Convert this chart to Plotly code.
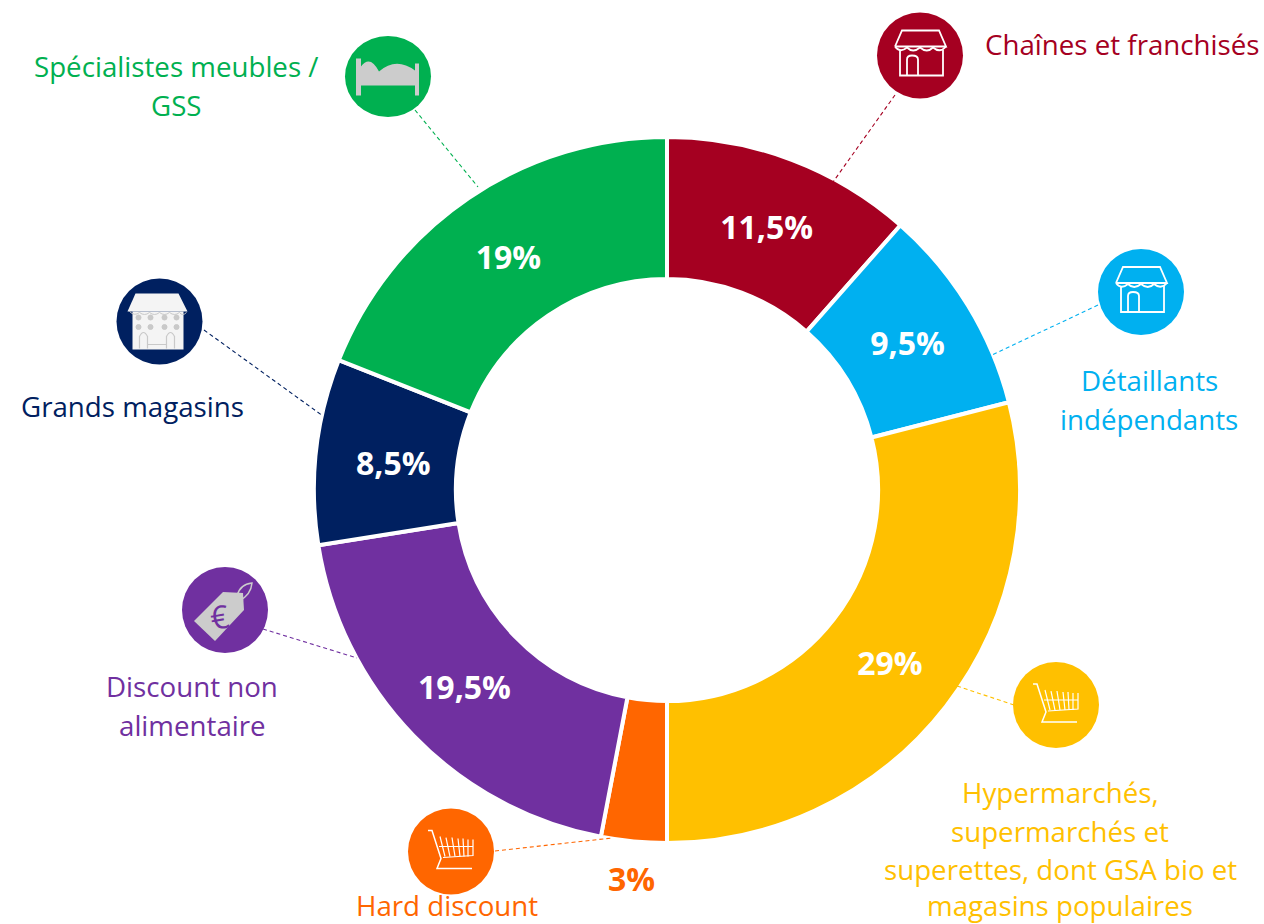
import plotly.graph_objects as go

W, H = 1264, 924

# ---- data ----
categories = ["Chaînes et franchisés", "Détaillants indépendants",
              "Hypermarchés, supermarchés et superettes, dont GSA bio et magasins populaires",
              "Hard discount", "Discount non alimentaire", "Grands magasins",
              "Spécialistes meubles / GSS"]
values = [11.5, 9.5, 29, 3, 19.5, 8.5, 19]
value_labels = ["11,5%", "9,5%", "29%", "3%", "19,5%", "8,5%", "19%"]
text_positions = ["inside", "inside", "inside", "none", "inside", "none", "inside"]
colors = ["#A50021", "#00B0F0", "#FFC000", "#FF6600", "#7030A0", "#002060", "#00B050"]

label_lines = [
    ["Chaînes et franchisés"],
    ["Détaillants", "indépendants"],
    ["Hypermarchés,", "supermarchés et", "superettes, dont GSA bio et", "magasins populaires"],
    ["Hard discount"],
    ["Discount non", "alimentaire"],
    ["Grands magasins"],
    ["Spécialistes meubles /", "GSS"],
]
label_anchor = [(1122, 44), (1149, 380), (1060, 792), (447, 905), (192, 686), (132, 406), (176, 66)]
LINE_STEP = 38.5
LOWEST_LINE = 905
icon_centers = [(920, 55.5), (1141, 292), (1056, 705), (451, 851.5), (225, 610), (159.5, 321.5), (388, 76.5)]
icon_ry = [43, 43, 43, 43, 43, 43, 40.5]
leaders = [((895, 95), (833, 182)), ((1098, 305), (992, 355)), ((1014, 705), (957, 686)),
           ((495, 851), (612, 838)), ((263, 629), (357, 658)), ((204, 330), (323, 416)),
           ((415, 110), (478, 187))]

FONT = "Open Sans"
LABEL_SIZE = 27.7
VALUE_SIZE = 32


def px(x):
    return x / W


def py(y):
    return 1 - y / H


ARITY = {"M": 2, "L": 2, "Q": 4}


def path(cmds, cx, cy):
    """cmds: (letter, (x, y, ...)) in pixels relative to the icon centre.
    Plotly only converts the first point of a command, so each point set gets its own letter."""
    out = []
    for c, pts in cmds:
        n = ARITY[c]
        for j in range(0, len(pts), n):
            seg = pts[j:j + n]
            coords = [f"{px(cx + seg[i]):.5f},{py(cy + seg[i + 1]):.5f}" for i in range(0, n, 2)]
            out.append(c + " ".join(coords))
    return " ".join(out)


shapes = []


def stroke(cmds, cx, cy, color="#FFFFFF", width=1.8):
    shapes.append(dict(type="path", xref="paper", yref="paper", path=path(cmds, cx, cy),
                       line=dict(color=color, width=width), fillcolor="rgba(0,0,0,0)"))


def fill(cmds, cx, cy, color="#CCCCCC"):
    shapes.append(dict(type="path", xref="paper", yref="paper", path=path(cmds, cx, cy) + " Z",
                       line=dict(color=color, width=0), fillcolor=color))


def store(cx, cy):
    c = "#FFFFFF"
    stroke([("M", (-25, -9)), ("L", (-18, -25, 19, -25, 26, -9, -25, -9))], cx, cy, c)
    stroke([("M", (-25, -9)),
            ("Q", (-20, -2, -13, -8, -7, -2, 0, -8, 7, -2, 13, -8, 20, -2, 26, -9))], cx, cy, c)
    stroke([("M", (-20, -6)), ("L", (-20, 20, 23, 20, 23, -6))], cx, cy, c)
    stroke([("M", (-13, 20)), ("L", (-13, 4)), ("Q", (-13, 0, -8, 0, -2, 0, -2, 4)),
            ("L", (-2, 20))], cx, cy, c)


def cart(cx, cy):
    c = "#FFFFFF"
    stroke([("M", (-23, -21)), ("L", (-19, -21, -10, 7, -14, 17, 21, 17))], cx, cy, c, 1.5)
    stroke([("M", (-12, -5)), ("L", (22, -5))], cx, cy, c, 1.2)
    stroke([("M", (-8, 6)), ("L", (22, 4, 22, -12))], cx, cy, c, 1.2)
    for x0, x1, top in [(-11, -6, -15), (-5, -1, -14), (1, 4, -14), (7, 9, -13), (12, 13, -13), (17, 17, -12)]:
        stroke([("M", (x0, top)), ("L", (x1, 5))], cx, cy, c, 1.2)


def bed(cx, cy):
    c = "#CCCCCC"
    fill([("M", (-32, -18)), ("L", (-27, -18, -27, 19, -32, 19))], cx, cy, c)
    fill([("M", (27, -13)), ("L", (31, -13, 31, 19, 27, 19))], cx, cy, c)
    fill([("M", (-27, 9)), ("L", (-27, -10)), ("Q", (-18, -22, -9, -5, 8, -20, 27, -6)),
          ("L", (27, 9))], cx, cy, c)


def tag(cx, cy):
    c = "#CCCCCC"
    fill([("M", (-31, 11)), ("L", (-10, 31, 19, 0, 18, -17, -2, -18))], cx, cy, c)
    stroke([("M", (12, -14)), ("Q", (15, -26, 27, -27, 26, -15, 14, -9))], cx, cy, c, 1.5)


def building(cx, cy):
    w, g = "#F4F4F4", "#C9C9C9"
    fill([("M", (-24, -28)), ("L", (19, -28, 28, -10, -32, -10))], cx, cy, w)
    fill([("M", (-27, -10)), ("L", (24, -10, 24, 28, -27, 28))], cx, cy, w)
    stroke([("M", (-30, -10)),
            ("Q", (-25, -5, -20, -9, -15, -5, -10, -9, -5, -5, 0, -9, 5, -5, 10, -9, 15, -5, 20, -9, 23, -5, 27, -9))],
           cx, cy, g, 1)
    for y in (-4, 5.5):
        for x in (-21, -9, 5, 17):
            shapes.append(dict(type="circle", xref="paper", yref="paper",
                               x0=px(cx + x - 2.5), x1=px(cx + x + 2.5),
                               y0=py(cy + y + 2.5), y1=py(cy + y - 2.5),
                               line=dict(color=g, width=1), fillcolor=g))
    for x in (-20, 7):
        stroke([("M", (x, 27)), ("L", (x, 15)), ("Q", (x + 4, 7, x + 8, 15)), ("L", (x + 8, 27))], cx, cy, g, 1.2)
    stroke([("M", (-12, 23)), ("L", (7, 23))], cx, cy, g, 1)


# leaders first, then circles and icons
for col, ((x0, y0), (x1, y1)) in zip(colors, leaders):
    shapes.append(dict(type="line", xref="paper", yref="paper",
                       x0=px(x0), y0=py(y0), x1=px(x1), y1=py(y1),
                       line=dict(color=col, width=1.1, dash="4px,3px")))

R = 43
for col, (cx, cy), ry in zip(colors, icon_centers, icon_ry):
    shapes.append(dict(type="circle", xref="paper", yref="paper",
                       x0=px(cx - R), x1=px(cx + R), y0=py(cy + ry), y1=py(cy - ry),
                       line=dict(width=0), fillcolor=col))

store(*icon_centers[0])
store(*icon_centers[1])
cart(*icon_centers[2])
cart(*icon_centers[3])
tag(*icon_centers[4])
building(*icon_centers[5])
bed(*icon_centers[6])

annotations = []
for col, lines, (ax, ay) in zip(colors, label_lines, label_anchor):
    for i, ln in enumerate(lines):
        annotations.append(dict(text=ln, xref="paper", yref="paper", x=px(ax),
                                y=py(min(ay + i * LINE_STEP, LOWEST_LINE)),
                                xanchor="center", yanchor="middle", showarrow=False,
                                font=dict(family=FONT, size=LABEL_SIZE, color=col)))
# euro sign on the price tag
annotations.append(dict(text="€", xref="paper", yref="paper", x=px(219), y=py(616),
                        xanchor="center", yanchor="middle", showarrow=False, textangle=-10,
                        font=dict(family=FONT, size=32, color=colors[4])))
# the 3% value sits below its thin slice; 8,5% is off the ring's centre line
annotations.append(dict(text=value_labels[3], xref="paper", yref="paper", x=px(631), y=py(878),
                        xanchor="center", yanchor="middle", showarrow=False,
                        font=dict(family=FONT, size=VALUE_SIZE, color=colors[3], weight="bold")))
annotations.append(dict(text=value_labels[5], xref="paper", yref="paper", x=px(393), y=py(462),
                        xanchor="center", yanchor="middle", showarrow=False,
                        font=dict(family=FONT, size=VALUE_SIZE, color="#FFFFFF", weight="bold")))

fig = go.Figure(go.Pie(
    labels=categories, values=values, text=value_labels, textinfo="text",
    textposition=text_positions, insidetextorientation="horizontal",
    insidetextfont=dict(family=FONT, size=VALUE_SIZE, color="#FFFFFF", weight="bold"),
    marker=dict(colors=colors, line=dict(color="#FFFFFF", width=4)),
    sort=False, direction="clockwise", rotation=0, hole=0.598,
    domain=dict(x=[px(314), px(1020)], y=[py(843), py(137)]),
    automargin=False, showlegend=False,
))
fig.update_layout(width=W, height=H, margin=dict(l=0, r=0, t=0, b=0),
                  paper_bgcolor="#FFFFFF", plot_bgcolor="#FFFFFF",
                  shapes=shapes, annotations=annotations, showlegend=False)
fig.write_html("out.html", config={"displayModeBar": False},
               post_script="document.body.style.margin='0';document.documentElement.style.overflow='hidden';")
